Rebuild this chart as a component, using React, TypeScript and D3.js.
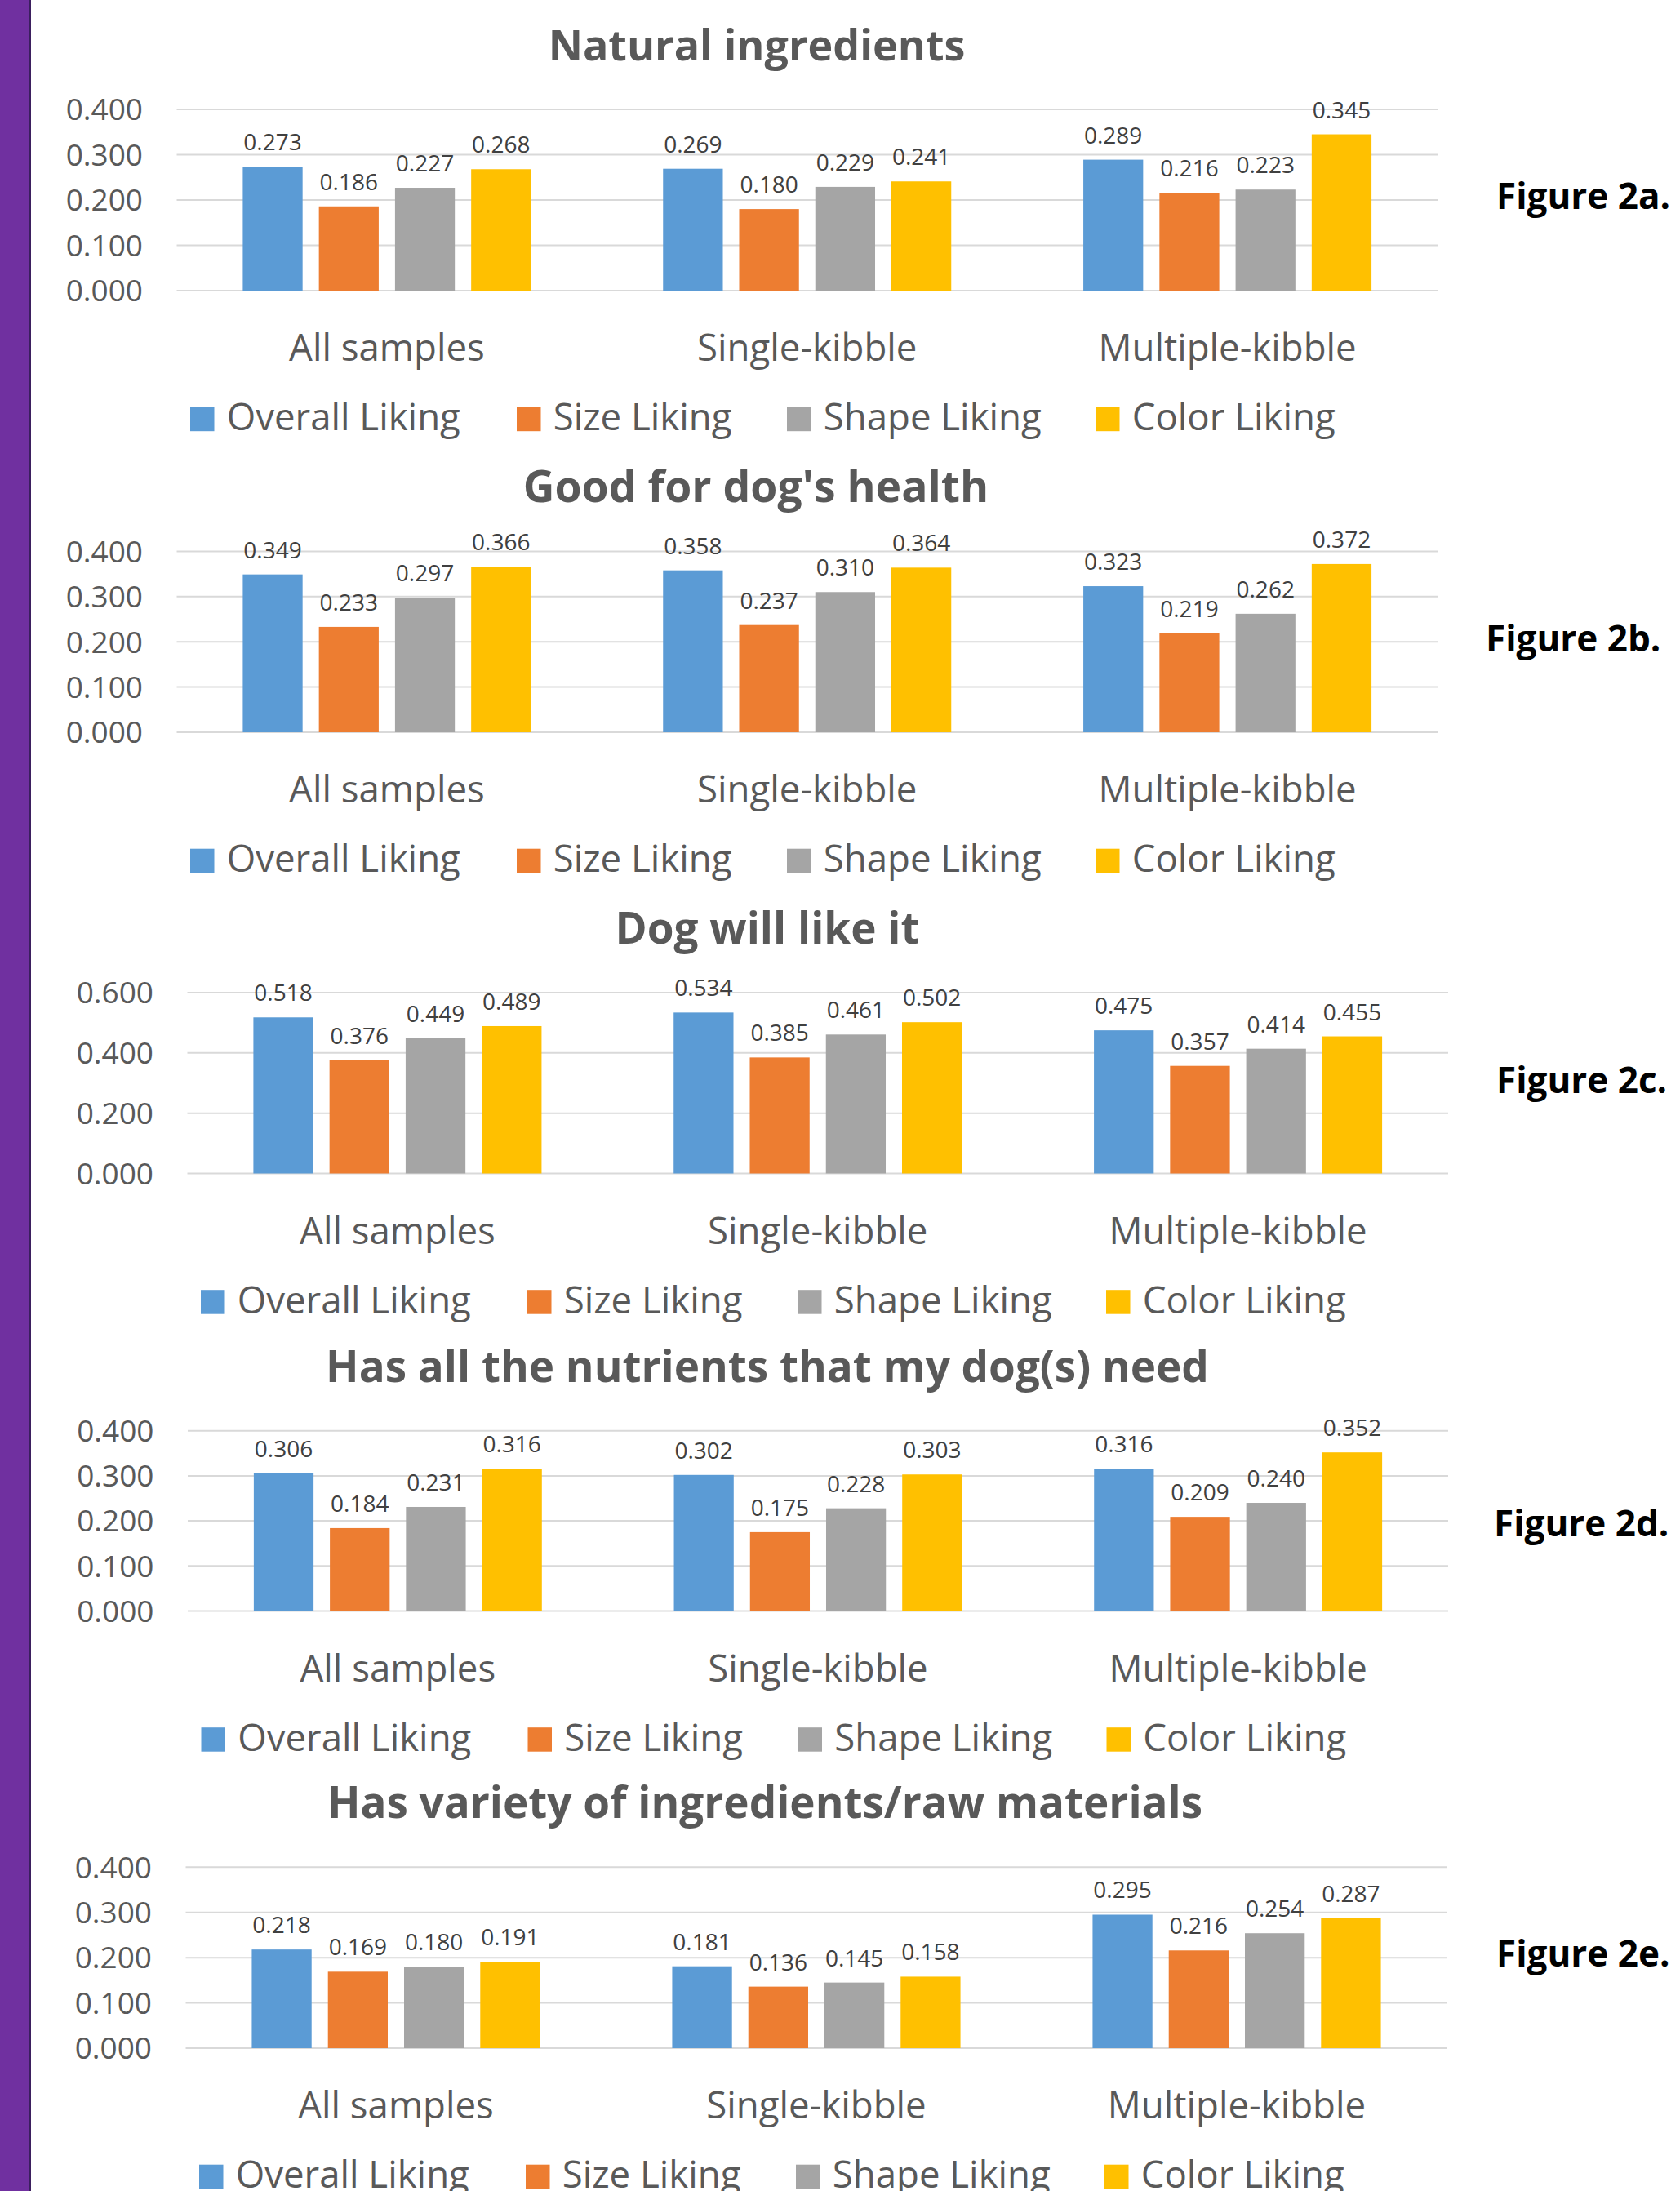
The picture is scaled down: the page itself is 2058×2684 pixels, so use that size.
import React from "react";
import * as d3 from "d3";

const groups = ["All samples", "Single-kibble", "Multiple-kibble"];
const seriesNames = ["Overall Liking", "Size Liking", "Shape Liking", "Color Liking"];
const seriesColors = ["#5B9BD5", "#ED7D31", "#A5A5A5", "#FFC000"];

const chartTitles = [
  "Natural ingredients",
  "Good for dog's health",
  "Dog will like it",
  "Has all the nutrients that my dog(s) need",
  "Has variety of ingredients/raw materials",
];
const figureLabels = ["Figure 2a.", "Figure 2b.", "Figure 2c.", "Figure 2d.", "Figure 2e."];

// values per group: [Overall, Size, Shape, Color]
const naturalIngredients = [
  [0.273, 0.186, 0.227, 0.268],
  [0.269, 0.18, 0.229, 0.241],
  [0.289, 0.216, 0.223, 0.345],
];
const goodForHealth = [
  [0.349, 0.233, 0.297, 0.366],
  [0.358, 0.237, 0.31, 0.364],
  [0.323, 0.219, 0.262, 0.372],
];
const dogWillLike = [
  [0.518, 0.376, 0.449, 0.489],
  [0.534, 0.385, 0.461, 0.502],
  [0.475, 0.357, 0.414, 0.455],
];
const allNutrients = [
  [0.306, 0.184, 0.231, 0.316],
  [0.302, 0.175, 0.228, 0.303],
  [0.316, 0.209, 0.24, 0.352],
];
const varietyIngredients = [
  [0.218, 0.169, 0.18, 0.191],
  [0.181, 0.136, 0.145, 0.158],
  [0.295, 0.216, 0.254, 0.287],
];
const chartData = [naturalIngredients, goodForHealth, dogWillLike, allNutrients, varietyIngredients];
const yMaxes = [0.4, 0.4, 0.6, 0.4, 0.4];
const yTickSteps = [0.1, 0.1, 0.2, 0.1, 0.1];

// layout (pixel positions)
const layouts = [
  { left: 216.5, right: 1761, top: 134, bottom: 356, titleX: 927, titleSize: 52, figX: 1833, figY: 256 },
  { left: 216.5, right: 1761, top: 675.4, bottom: 897, titleX: 926, titleSize: 53.5, figX: 1820, figY: 798 },
  { left: 229.5, right: 1774, top: 1216, bottom: 1437.5, titleX: 940, titleSize: 53, figX: 1833, figY: 1338.5 },
  { left: 230, right: 1774, top: 1752.7, bottom: 1973.5, titleX: 940, titleSize: 53, figX: 1830, figY: 1882 },
  { left: 227.5, right: 1772.5, top: 2287.3, bottom: 2509, titleX: 937, titleSize: 53, figX: 1833, figY: 2409 },
];
const legendOffsets = [16.5, 416.5, 747.5, 1125.5];

const FONT = "'Open Sans', 'Noto Sans', sans-serif";
const fmt = d3.format(".3f");

function Chart({ idx }: { idx: number }) {
  const L = layouts[idx];
  const data = chartData[idx];
  const yMax = yMaxes[idx];
  const step = yTickSteps[idx];
  const y = d3.scaleLinear().domain([0, yMax]).range([L.bottom, L.top]);
  const x0 = d3.scaleBand<string>().domain(groups).range([L.left, L.right]).padding(0);
  const bw = x0.bandwidth();
  const half = bw * 0.34285;
  const x1 = d3
    .scaleBand<string>()
    .domain(seriesNames)
    .range([-half, half])
    .paddingInner(0.2144)
    .paddingOuter(0);
  const ticks = d3.range(0, yMax + step / 2, step);

  return (
    <g>
      <text
        x={L.titleX}
        y={L.top - 60}
        textAnchor="middle"
        fontFamily={FONT}
        fontWeight="bold"
        fontSize={L.titleSize}
        fill="#595959"
      >
        {chartTitles[idx]}
      </text>
      {ticks.map((t) => (
        <g key={t}>
          <line x1={L.left} x2={L.right} y1={y(t)} y2={y(t)} stroke="#D9D9D9" strokeWidth={2} />
          <text
            x={L.left - 41.5}
            y={y(t)}
            dy="0.36em"
            textAnchor="end"
            fontFamily={FONT}
            fontSize={37}
            fill="#595959"
          >
            {fmt(t)}
          </text>
        </g>
      ))}
      {groups.map((g, gi) => {
        const cx = (x0(g) as number) + bw / 2;
        return (
          <g key={g}>
            {seriesNames.map((s, si) => {
              const v = data[gi][si];
              const bx = cx + (x1(s) as number);
              return (
                <g key={s}>
                  <rect
                    x={bx}
                    y={y(v)}
                    width={x1.bandwidth()}
                    height={y(0) - y(v)}
                    fill={seriesColors[si]}
                  />
                  <text
                    x={bx + x1.bandwidth() / 2}
                    y={y(v) - 20}
                    textAnchor="middle"
                    fontFamily={FONT}
                    fontSize={28}
                    fill="#404040"
                  >
                    {fmt(v)}
                  </text>
                </g>
              );
            })}
            <text
              x={cx}
              y={L.bottom + 86}
              textAnchor="middle"
              fontFamily={FONT}
              fontSize={45.6}
              fill="#595959"
            >
              {g}
            </text>
          </g>
        );
      })}
      {seriesNames.map((s, si) => {
        const lx = L.left + legendOffsets[si];
        return (
          <g key={s}>
            <rect x={lx} y={L.bottom + 142.7} width={29.5} height={29.5} fill={seriesColors[si]} />
            <text x={lx + 44.7} y={L.bottom + 171} fontFamily={FONT} fontSize={45.6} fill="#595959">
              {s}
            </text>
          </g>
        );
      })}
      <text x={L.figX} y={L.figY} fontFamily={FONT} fontWeight="bold" fontSize={44} fill="#000000">
        {figureLabels[idx]}
      </text>
    </g>
  );
}

export default function App() {
  return (
    <svg
      width={2058}
      height={2684}
      style={{ position: "absolute", left: 0, top: 0, display: "block", background: "#ffffff" }}
    >
      <rect x={0} y={0} width={2058} height={2684} fill="#ffffff" />
      <rect x={0} y={0} width={35} height={2684} fill="#7030A0" />
      <rect x={35} y={0} width={3} height={2684} fill="#3B1F5E" />
      {chartData.map((_, i) => (
        <Chart key={i} idx={i} />
      ))}
    </svg>
  );
}
